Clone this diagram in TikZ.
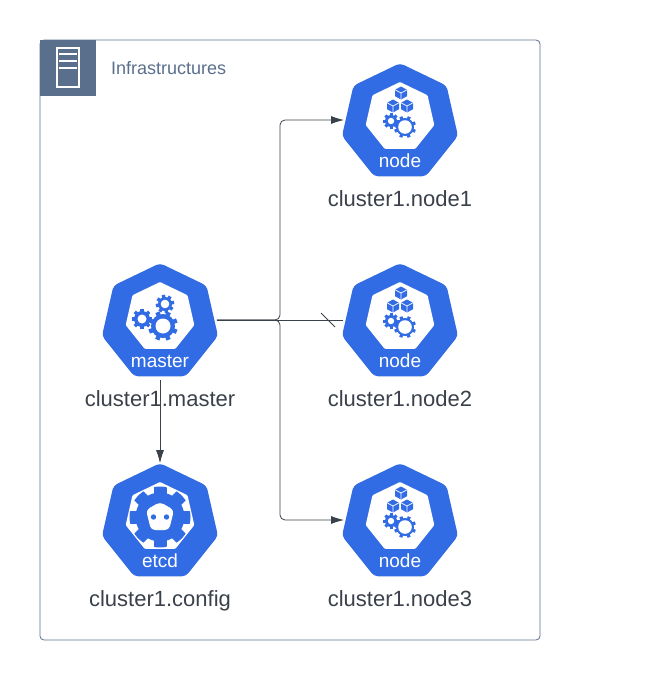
\documentclass[tikz,border=0pt]{standalone}
\usepackage{fontspec}
\setmainfont{Liberation Sans}
\usetikzlibrary{arrows.meta,positioning,shapes.geometric,calc}
\definecolor{k8sblue}{HTML}{326CE5}
\definecolor{slategrey}{HTML}{5A6F8C}
\definecolor{edgegrey}{HTML}{3A414A}
\begin{document}
\begin{tikzpicture}[
  x=1pt,y=-1pt,
  hept/.style={regular polygon,regular polygon sides=7,minimum size=119pt,inner sep=0pt,outer sep=0pt,fill=k8sblue,rounded corners=4pt},
  heptin/.style={regular polygon,regular polygon sides=7,minimum size=70.4pt,inner sep=0pt,outer sep=0pt,fill=white,rounded corners=1pt},
  tag/.style={text=white,font=\fontsize{19}{19}\selectfont,text height=13pt,text depth=1pt},
  caption/.style={text=edgegrey,font=\fontsize{22}{22}\selectfont,inner sep=1pt,text height=15pt,text depth=1pt},
  edge/.style={-{Latex[length=13pt,width=8pt]},edgegrey,line width=.8pt},
  plain/.style={edgegrey,line width=.8pt},
  pics/cog/.style n args={4}{code={
    \fill[k8sblue] (0,0) circle (#1);
    \foreach \a in {0,45,...,315}
      \fill[k8sblue,rotate=\a+#4] (-#3,0) rectangle (#3,#1+#3*1.3);
    \fill[white] (0,0) circle (#2);
  }},
  pics/cube/.style={code={
    \fill[k8sblue] (0,-6.5) -- (6,-3.2) -- (6,3.2) -- (0,6.5) -- (-6,3.2) -- (-6,-3.2) -- cycle;
    \draw[white,line width=.7pt] (-6,-3.2) -- (0,0) -- (6,-3.2) (0,0) -- (0,6.5);
  }},
  pics/nodeicon/.style={code={
    \pic at (1,30) {cube};
    \pic at (-7,43) {cube};
    \pic at (7,43) {cube};
    \pic at (-9,58) {cog={6}{3.2}{1.5}{0}};
    \pic at (5,64) {cog={9}{6.8}{1.6}{22}};
  }}]
% frame
\useasboundingbox (0,0) rectangle (651,680);
\draw[slategrey,line width=.8pt,rounded corners=4pt] (40,40) rectangle (540,640);
\fill[slategrey] (40,40) rectangle (96,96);
\draw[white,line width=1.2pt] (57,48) rectangle (79,87) (59,54) -- (77,54) (59,61) -- (77,61) (59,68) -- (77,68);
\node[anchor=west,text=slategrey,font=\fontsize{18}{18}\selectfont,inner sep=0pt] (title) at (111,68.5) {Infrastructures};
% connectors first
\node[hept] (master) at (160,322.7) {};
\node[hept] (etcd) at (160,522.7) {};
\node[hept] (node1) at (400,122.7) {};
\node[hept] (node2) at (400,322.7) {};
\node[hept] (node3) at (400,522.7) {};
\coordinate (out) at ($(master.east)+(2,-2.7)$);
\draw[edge,rounded corners=5pt] (out) -- (280,320) -- (280,120) -- ($(node1.west)+(-1,-2.7)$);
\draw[edge,rounded corners=5pt] (out) -- (280,320) -- (280,520) -- ($(node3.west)+(-1,-2.7)$);
\draw[plain] (out) -- ($(node2.west)+(-2,-2.7)$);
\draw[plain] (321,313) -- (335,327);
% master
\node[heptin] (masterin) at (160,317.2) {};
\pic at (163,326) {cog={12}{7.5}{2.2}{22}};
\pic at (142,319) {cog={8}{4.5}{1.7}{0}};
\pic at (165,304) {cog={7}{4.3}{1.7}{10}};
\node[tag] (mastertag) at (160,361) {master};
\node[caption] (mastercap) at (160,399) {cluster1.master};
% etcd
\node[heptin] (etcdin) at (160,517.2) {};
\begin{scope}
\clip (160,517) circle (30.5);
\pic at (160,517) {cog={24.5}{0}{6.5}{0}};
\end{scope}
\fill[white,rounded corners=4pt] (160,502) -- (174,510) -- (169,530) -- (151,530) -- (146,510) -- cycle;
\fill[k8sblue] (153.5,517) circle (2.7) (166.5,517) circle (2.7);
\node[tag] (etcdtag) at (160,561) {etcd};
\node[caption] (etcdcap) at (160,599) {cluster1.config};
% workers
\foreach \n/\y in {1/63,2/263,3/463}{
  \node[heptin] (node\n in) at (400,\y+54.2) {};
  \pic at (400,\y) {nodeicon};
  \node[tag] (node\n tag) at (400,\y+98) {node};
  \node[caption] (node\n cap) at (400,\y+136) {cluster1.node\n};
}
\draw[edge] ($(master.south)+(0,3.5)$) -- (etcd.north);
\end{tikzpicture}
\end{document}
